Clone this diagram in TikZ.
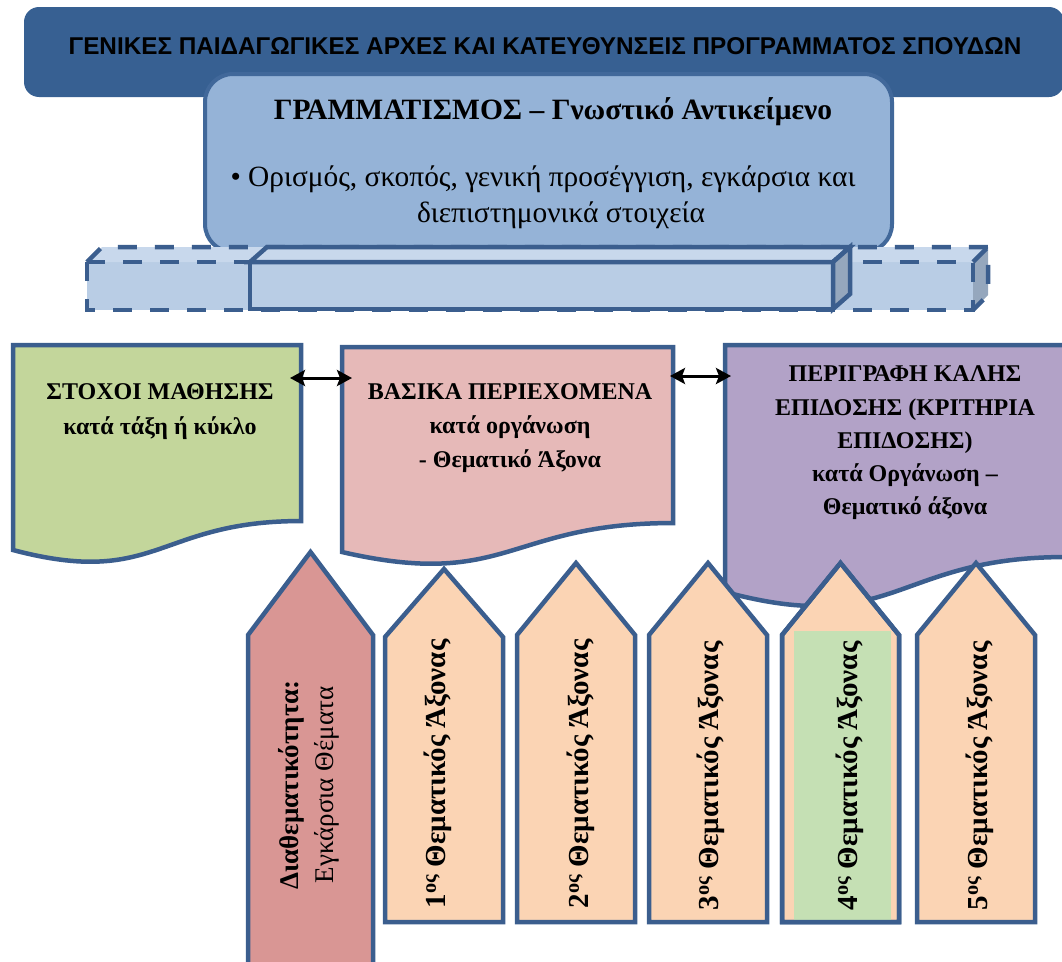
\documentclass[tikz,border=0pt]{standalone}
\usepackage{fontspec}
\setmainfont{Liberation Serif}
\newfontfamily\bannerfont{Liberation Sans}
\usetikzlibrary{calc,arrows.meta}
\definecolor{bannerblue}{HTML}{376092}
\definecolor{edgeblue}{HTML}{3B5E8E}
\definecolor{boxblue}{HTML}{95B3D7}
\definecolor{boxedge}{HTML}{41689A}
\definecolor{barfront}{HTML}{B9CDE5}
\definecolor{bartop}{HTML}{C8D8EC}
\definecolor{barside}{HTML}{95A7BD}
\definecolor{docgreen}{HTML}{C3D69B}
\definecolor{docpink}{HTML}{E6B9B8}
\definecolor{docpurple}{HTML}{B2A2C7}
\definecolor{axpeach}{HTML}{FBD4B4}
\definecolor{axred}{HTML}{D99694}
\definecolor{axgreen}{HTML}{C5E0B4}
\tikzset{
  zone/.style={rectangle, draw=none, fill=none, inner sep=0pt, outer sep=0pt},
  outline/.style={draw=edgeblue, line width=4.5pt, line join=miter},
  dashline/.style={draw=edgeblue, line width=4.5pt, dash pattern=on 19pt off 18pt},
  doctext/.style={inner sep=0pt, align=center, font=\bfseries\fontsize{24}{34}\selectfont},
  axtext/.style={inner sep=0pt, rotate=90, font=\bfseries\fontsize{29}{34}\selectfont},
  dblarrow/.style={line width=3pt, {Stealth[length=15pt,width=16pt,inset=3pt]}-{Stealth[length=15pt,width=16pt,inset=3pt]}},
}
\newcommand{\pentagon}[6]{\draw[outline, fill=#6] (#1,#5) -- (#1,#4) -- ({(#1+#2)/2},#3) -- (#2,#4) -- (#2,#5) -- cycle;}
\begin{document}
\begin{tikzpicture}[x=1pt,y=-1pt]
\useasboundingbox (0,0) rectangle (1062,961);
\clip (0,0) rectangle (1062,961);
% banner
\node[zone, fill=bannerblue, rounded corners=15pt, minimum width=1040pt, minimum height=90pt] (banner) at (544,52) {};
\node[inner sep=0pt, anchor=base, font=\bannerfont\bfseries\fontsize{24.3}{28}\selectfont] (bannertext) at (545,54) {ΓΕΝΙΚΕΣ ΠΑΙΔΑΓΩΓΙΚΕΣ ΑΡΧΕΣ ΚΑΙ ΚΑΤΕΥΘΥΝΣΕΙΣ ΠΡΟΓΡΑΜΜΑΤΟΣ ΣΠΟΥΔΩΝ};
% subject box
\node[zone, draw=boxedge, line width=4pt, fill=boxblue, rounded corners=28pt, minimum width=687pt, minimum height=178pt] (topic) at (548.5,163) {};
\node[inner sep=0pt, anchor=base, font=\bfseries\fontsize{29.5}{32}\selectfont] (topictitle) at (553,119) {ΓΡΑΜΜΑΤΙΣΜΟΣ – Γνωστικό Αντικείμενο};
\node[inner sep=0pt, anchor=base, font=\fontsize{29.4}{32}\selectfont] (topicline1) at (543,186) {• Ορισμός, σκοπός, γενική προσέγγιση, εγκάρσια και};
\node[inner sep=0pt, anchor=base, font=\fontsize{29.4}{32}\selectfont] (topicline2) at (561,222) {διεπιστημονικά στοιχεία};
% dashed bar
\fill[barfront] (87,262) rectangle (973,310);
\fill[bartop] (87,262) -- (102,247) -- (988,247) -- (973,262) -- cycle;
\fill[barside] (973,262) -- (988,247) -- (988,295) -- (973,310) -- cycle;
\draw[dashline] (87,262) rectangle (973,310);
\draw[dashline] (87,262) -- (102,247) -- (988,247) -- (988,295) -- (973,310);
\draw[dashline] (973,262) -- (988,247);
% solid bar
\draw[outline, fill=barfront] (250,262) rectangle (833,309);
\draw[outline, fill=bartop] (250,262) -- (267,247) -- (850,247) -- (833,262) -- cycle;
\draw[outline, fill=barside] (833,262) -- (850,247) -- (850,294) -- (833,309) -- cycle;
% documents
\node[zone, anchor=north west, minimum width=288pt, minimum height=219.5pt] (goals) at (13,345) {};
\node[zone, anchor=north west, minimum width=331pt, minimum height=219.5pt] (content) at (342,347) {};
\node[zone, anchor=north west, minimum width=340pt, minimum height=264.4pt] (assess) at (725,345) {};
\draw[outline, fill=docgreen] (goals.north west) -- (goals.north east) -- ($(goals.north east)!0.802!(goals.south east)$) .. controls ($(goals.north)!0.802!(goals.south)$) and ($(goals.north)!1.1075!(goals.south)$) .. ($(goals.north west)!0.934!(goals.south west)$) -- cycle;
\draw[outline, fill=docpink] (content.north west) -- (content.north east) -- ($(content.north east)!0.802!(content.south east)$) .. controls ($(content.north)!0.802!(content.south)$) and ($(content.north)!1.1075!(content.south)$) .. ($(content.north west)!0.934!(content.south west)$) -- cycle;
\draw[outline, fill=docpurple] (assess.north west) -- (assess.north east) -- ($(assess.north east)!0.802!(assess.south east)$) .. controls ($(assess.north)!0.802!(assess.south)$) and ($(assess.north)!1.1075!(assess.south)$) .. ($(assess.north west)!0.934!(assess.south west)$) -- cycle;
\node[doctext, font=\bfseries\fontsize{24}{35}\selectfont] (goalstext) at (160,412) {ΣΤΟΧΟΙ ΜΑΘΗΣΗΣ\\κατά τάξη ή κύκλο};
\node[doctext] (contenttext) at (510,428.5) {ΒΑΣΙΚΑ ΠΕΡΙΕΧΟΜΕΝΑ\\κατά οργάνωση\\- Θεματικό Άξονα};
\node[doctext, font=\bfseries\fontsize{24}{33.3}\selectfont] (assesstext) at (905,443) {ΠΕΡΙΓΡΑΦΗ ΚΑΛΗΣ\\ΕΠΙΔΟΣΗΣ (ΚΡΙΤΗΡΙΑ\\ΕΠΙΔΟΣΗΣ)\\κατά Οργάνωση –\\Θεματικό άξονα};
% connectors
\draw[dblarrow] ([xshift=-11pt,yshift=-33pt]goals.north east) -- ([xshift=10pt,yshift=-31pt]content.north west);
\draw[dblarrow] ([xshift=-3pt,yshift=-29pt]content.north east) -- ([xshift=6pt,yshift=-31pt]assess.north west);
% axis arrows
\pentagon{248}{373}{552}{635}{990}{axred}
\pentagon{385}{503}{569}{637}{922}{axpeach}
\pentagon{517}{635}{563}{635}{922}{axpeach}
\pentagon{649}{767}{563}{635}{922}{axpeach}
\pentagon{782}{899}{563}{635}{922}{axpeach}
\fill[axgreen] (794,631) rectangle (891,920);
\draw[outline] (782,922) -- (782,635) -- (840.5,563) -- (899,635) -- (899,922) -- cycle;
\pentagon{917}{1035}{563}{635}{922}{axpeach}
\node[axtext, align=center, font=\fontsize{27}{35}\selectfont] (ax0text) at (309,785) {\textbf{Διαθεματικότητα:}\\Εγκάρσια Θέματα};
\node[axtext, anchor=base] (ax1text) at (445,774) {1\textsuperscript{ος} Θεματικός Άξονας};
\node[axtext, anchor=base] (ax2text) at (588,774) {2\textsuperscript{ος} Θεματικός Άξονας};
\node[axtext, anchor=base] (ax3text) at (718,776) {3\textsuperscript{ος} Θεματικός Άξονας};
\node[axtext, anchor=base] (ax4text) at (857,776) {4\textsuperscript{ος} Θεματικός Άξονας};
\node[axtext, anchor=base] (ax5text) at (987,776) {5\textsuperscript{ος} Θεματικός Άξονας};
\end{tikzpicture}
\end{document}
